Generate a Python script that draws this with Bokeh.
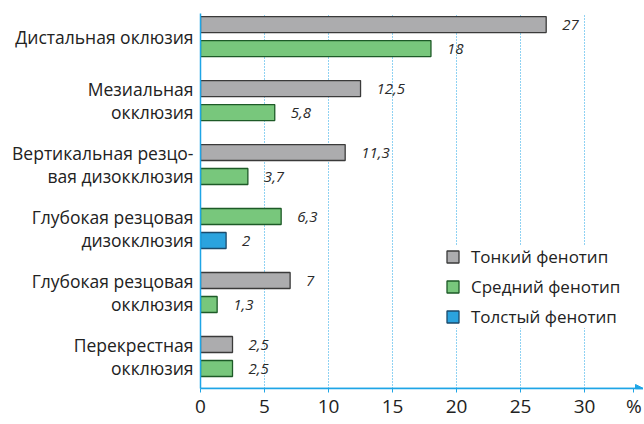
from bokeh.plotting import figure
from bokeh.models import (ColumnDataSource, Range1d, FixedTicker, Legend, LegendItem,
                          Arrow, NormalHead)
from bokeh.core.properties import value
from bokeh.embed import file_html
from bokeh.resources import INLINE

categories = ["Дистальная оклюзия", "Мезиальная\nокклюзия", "Вертикальная резцо-\nвая дизокклюзия",
              "Глубокая резцовая\nдизокклюзия", "Глубокая резцовая\nокклюзия", "Перекрестная\nокклюзия"]
thin = [27, 12.5, 11.3, None, 7, 2.5]
medium = [18, 5.8, 3.7, 6.3, 1.3, 2.5]
thick = [None, None, None, 2, None, None]
series_names = ["Тонкий фенотип", "Средний фенотип", "Толстый фенотип"]
x_ticks = [0, 5, 10, 15, 20, 25, 30]
unit_label = "%"
unit_pos = 33.85

FONT = "Open Sans"
AXIS_BLUE = "#1ea5e6"
fills = ["#acacae", "#78c77c", "#2ba3de"]
lines = ["#3a3a3a", "#1d5a27", "#1b4a6b"]

n = len(categories)
series = [thin, medium, thick]
slot_offset = [0.1875, -0.1875]
sources = []
for s_idx, vals in enumerate(series):
    ys, xs, labels = [], [], []
    for i in range(n):
        present = [k for k in range(3) if series[k][i] is not None]
        if vals[i] is None:
            continue
        slot = present.index(s_idx)
        ys.append((n - 1 - i) + 0.5 + slot_offset[slot])
        xs.append(vals[i])
        labels.append(f"{vals[i]:g}".replace(".", ","))
    sources.append(ColumnDataSource(dict(y=ys, x=xs, label=labels)))

p = figure(width=643, height=424, output_backend="svg", toolbar_location=None,
           x_range=Range1d(0, 34.6), y_range=Range1d(0, 5.86),
           min_border_left=200, min_border_top=13, min_border_right=0, min_border_bottom=36)
p.outline_line_color = None
p.background_fill_color = "white"

renderers = []
for s_idx, src in enumerate(sources):
    r = p.hbar(y="y", right="x", left=0, height=0.25, source=src,
               fill_color=fills[s_idx], line_color=lines[s_idx], line_width=1.3)
    renderers.append(r)
    p.text(x="x", y="y", text="label", source=src, x_offset=16,
           text_font=value(FONT), text_font_style="italic", text_font_size="15px",
           text_baseline="middle", text_align="left", text_color="#2a2a2a")

# axes
p.xaxis.ticker = FixedTicker(ticks=x_ticks + [unit_pos])
p.xaxis.major_label_overrides = {unit_pos: unit_label}
p.xaxis.axis_line_color = AXIS_BLUE
p.xaxis.axis_line_width = 1.5
p.xaxis.major_tick_line_color = AXIS_BLUE
p.xaxis.major_tick_in = 0
p.xaxis.major_tick_out = 4
p.xaxis.minor_tick_line_color = None
p.xaxis.major_label_text_font = FONT
p.xaxis.major_label_text_font_size = "19px"
p.xaxis.major_label_text_color = "#222222"
p.xaxis.major_label_standoff = 0

p.yaxis.ticker = FixedTicker(ticks=[(n - 1 - i) + 0.5 for i in range(n)])
p.yaxis.major_label_overrides = {(n - 1 - i) + 0.5: c for i, c in enumerate(categories)}
p.yaxis.axis_line_color = AXIS_BLUE
p.yaxis.axis_line_width = 1.5
p.yaxis.major_tick_line_color = None
p.yaxis.minor_tick_line_color = None
p.yaxis.major_label_text_font = FONT
p.yaxis.major_label_text_font_size = "17.5px"
p.yaxis.major_label_text_color = "#222222"
p.yaxis.major_label_text_line_height = 0.93
p.yaxis.major_label_standoff = 1

p.ygrid.grid_line_color = None
p.xgrid.ticker = FixedTicker(ticks=x_ticks[1:])
p.xgrid.grid_line_color = AXIS_BLUE
p.xgrid.grid_line_dash = "1 2"
p.xgrid.grid_line_width = 1

p.add_layout(Arrow(end=NormalHead(size=8, fill_color=AXIS_BLUE, line_color=AXIS_BLUE),
                   x_start=0, y_start=0, x_end=34.6, y_end=0,
                   line_color=AXIS_BLUE, line_width=1.5))

legend = Legend(items=[LegendItem(label=series_names[k], renderers=[renderers[k]]) for k in range(3)],
                location=(245, 60), glyph_width=15, glyph_height=15, label_standoff=11,
                spacing=7, padding=9, margin=0, border_line_color=None,
                background_fill_color="white", background_fill_alpha=1,
                label_text_font=FONT, label_text_font_size="17px", label_text_color="#222222")
p.add_layout(legend)

open("out.html", "w").write(file_html(p, INLINE))
